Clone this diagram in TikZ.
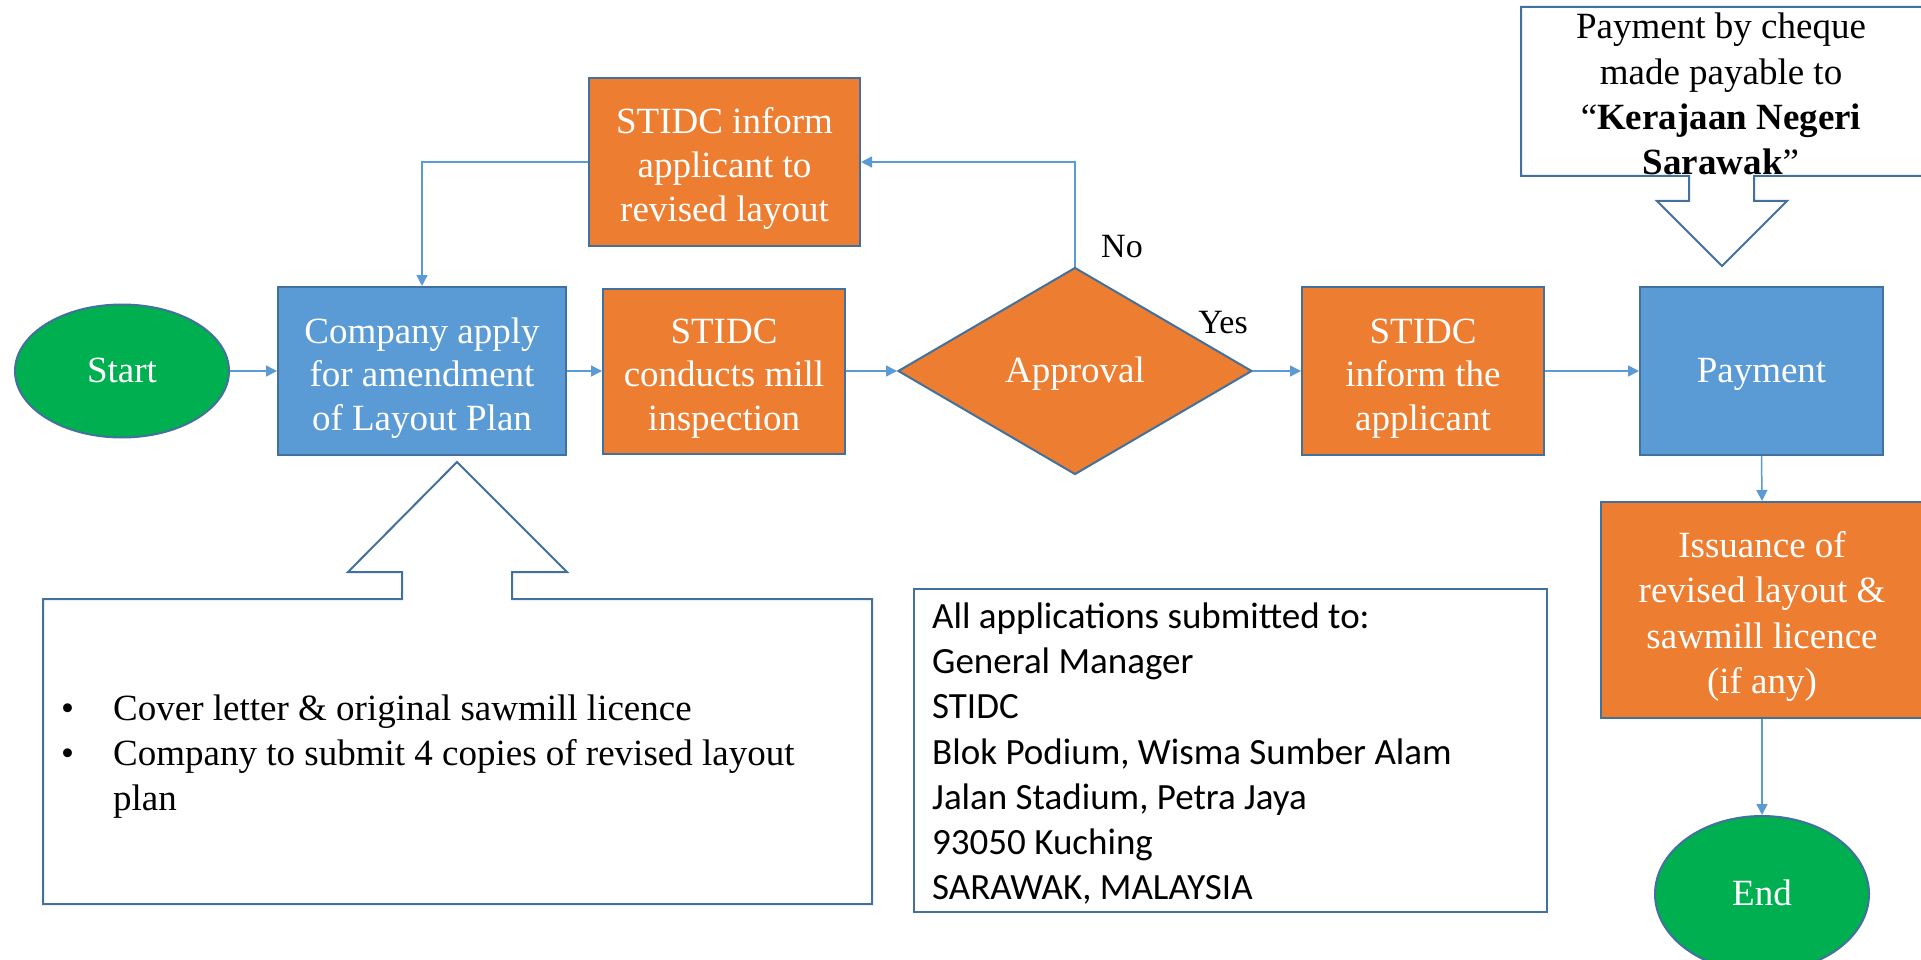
\documentclass[tikz,border=0pt]{standalone}
\usepackage{fontspec}
\setmainfont{Liberation Serif}
\newfontfamily\calib{Carlito}
\usetikzlibrary{shapes.geometric,arrows.meta}
\definecolor{orng}{HTML}{ED7D31}
\definecolor{blu}{HTML}{5B9BD5}
\definecolor{grn}{HTML}{00B050}
\definecolor{edgec}{HTML}{41719C}
\newcommand\topstr{\rule[-9pt]{0pt}{49pt}}
\newcommand\botstr{\rule[-9pt]{0pt}{40pt}}
\begin{document}
\begin{tikzpicture}[x=1pt,y=-1pt,
  base/.style={draw=edgec, line width=2pt, text=white, inner sep=0pt, align=center,
    font=\fontsize{37}{43.5}\selectfont},
  obox/.style={base, fill=orng, rectangle},
  bbox/.style={base, fill=blu, rectangle},
  term/.style={base, fill=grn, ellipse},
  link/.style={draw=blu, line width=1.5pt, -{Triangle[length=11pt,width=11pt]}},
  callout/.style={draw=edgec, line width=2pt, fill=white, line join=miter},
  lbl/.style={inner sep=0pt, text=black, font=\fontsize{34}{40}\selectfont}]
\useasboundingbox (0,0) rectangle (1921,960);
\fill[white] (0,0) rectangle (1921,960);

% callout shapes
\draw[callout] (43,599) -- (402,599) -- (402,572) -- (348,572) -- (457,462) -- (567,572)
  -- (512,572) -- (512,599) -- (872,599) -- (872,904) -- (43,904) -- cycle;
\draw[callout] (1930,7) -- (1521,7) -- (1521,176) -- (1689,176) -- (1689,201) -- (1657,201)
  -- (1722,266) -- (1787,201) -- (1754,201) -- (1754,176) -- (1930,176);
\draw[draw=edgec, line width=2pt, fill=white] (914,589) rectangle (1547,912);

% nodes
\node[term, minimum width=214pt, minimum height=133pt] (start) at (122,371) {\botstr Start};
\node[bbox, minimum width=288pt, minimum height=168pt] (company) at (422,371) {\topstr Company apply\\for amendment\\of Layout Plan\botstr};
\node[obox, minimum width=242pt, minimum height=165pt] (inspect) at (724,371) {\topstr STIDC\\conducts mill\\inspection\botstr};
\node[obox, diamond, minimum width=354pt, minimum height=207pt] (approval) at (1075,371) {\botstr Approval};
\node[obox, minimum width=242pt, minimum height=168pt] (applicant) at (1423,371) {\topstr STIDC\\inform the\\applicant\botstr};
\node[bbox, minimum width=243pt, minimum height=168pt] (payment) at (1761.5,371) {\botstr Payment};
\node[obox, minimum width=271pt, minimum height=167pt] (revise) at (724.5,162) {\topstr STIDC inform\\applicant to\\revised layout\botstr};
\node[obox, minimum width=322pt, minimum height=216pt, font=\fontsize{37}{45.5}\selectfont] (issue) at (1762,610) {\topstr Issuance of\\revised layout \&\\sawmill licence\\(if any)\botstr};
\node[term, minimum width=214pt, minimum height=156pt] (endn) at (1762,894) {\botstr End};

% texts
\node[inner sep=0pt, align=center, font=\fontsize{37}{45.3}\selectfont] (cheque) at (1721,94)
  {Payment by cheque\\made payable to\\``\textbf{Kerajaan Negeri}\\\textbf{Sarawak}''};
\node[inner sep=0pt, anchor=west, font=\fontsize{37}{45}\selectfont] (docs) at (61,756.5)
  {\begin{tabular}{@{}p{52pt}@{}l@{}}
  •& Cover letter \& original sawmill licence\\
  •& Company to submit 4 copies of revised layout\\
   & plan
  \end{tabular}};
\node[inner sep=0pt, anchor=west, font=\calib\fontsize{37}{45.3}\selectfont] (addr) at (932,755)
  {\begin{tabular}{@{}l@{}}
  All applications submitted to:\\
  General Manager\\
  STIDC\\
  Blok Podium, Wisma Sumber Alam\\
  Jalan Stadium, Petra Jaya\\
  93050 Kuching\\
  SARAWAK, MALAYSIA
  \end{tabular}};
\node[lbl] (no) at (1122,247) {No};
\node[lbl] (yes) at (1223,323) {Yes};

% connectors
\draw[link] (start.east) -- (company.west);
\draw[link] (company.east) -- (inspect.west);
\draw[link] (inspect.east) -- (approval.west);
\draw[link] (approval.east) -- (applicant.west);
\draw[link] (applicant.east) -- (payment.west);
\draw[link] (approval.north) |- (revise.east);
\draw[link] (revise.west) -| (company.north);
\draw[link] (payment.south) -- (issue.north);
\draw[link] (issue.south) -- (endn.north);
\end{tikzpicture}
\end{document}
